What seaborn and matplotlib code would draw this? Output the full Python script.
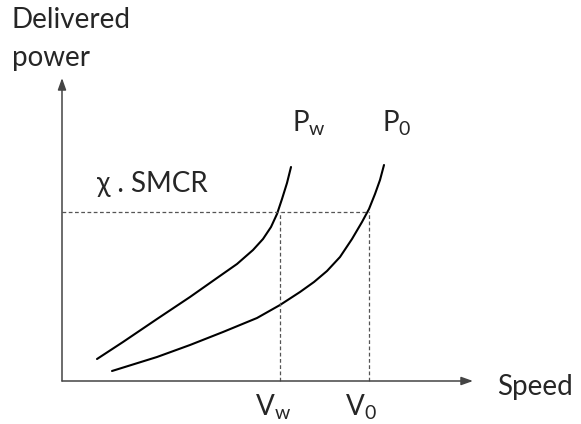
import matplotlib
matplotlib.use("Agg")
import matplotlib.pyplot as plt
import seaborn as sns
import pandas as pd

sns.set_style("white")
plt.rcParams['font.family'] = ['Lato', 'DejaVu Sans']

# Curve data (schematic units: speed, delivered power)
pw_speed = [35, 61, 95, 128, 155, 175, 191, 201, 209, 215, 220, 225, 229]
pw_power = [22, 39, 62, 84, 103, 117, 131, 142, 154, 167, 182, 198, 214]
p0_speed = [50, 95, 128, 161, 195, 218, 238, 252, 265, 278, 290, 300, 307, 313, 318, 322]
p0_power = [10, 24, 36, 49, 63, 76, 89, 99, 110, 124, 142, 159, 172, 187, 201, 216]

smcr_level = 169
v_w = 218
v_0 = 307
x_axis_end = 411
y_axis_end = 303

df = pd.concat([
    pd.DataFrame({"speed": pw_speed, "power": pw_power, "curve": "Pw"}),
    pd.DataFrame({"speed": p0_speed, "power": p0_power, "curve": "P0"}),
])

fig = plt.figure(figsize=(5.81, 4.24), dpi=100)
ax = fig.add_axes([0, 0, 1, 1])
ax.set_xlim(-62, 519)
ax.set_ylim(-43, 381)
ax.axis("off")

sns.lineplot(data=df, x="speed", y="power", units="curve", estimator=None,
             sort=False, color="black", lw=1.5, ax=ax, legend=False)

dash = dict(color="#555555", lw=0.9, ls=(0, (3, 2)))
ax.plot([0, v_0], [smcr_level, smcr_level], **dash)
ax.plot([v_w, v_w], [0, smcr_level], **dash)
ax.plot([v_0, v_0], [0, smcr_level], **dash)

arrow = dict(arrowstyle="-|>,head_length=0.7,head_width=0.25", color="#444444",
             lw=1.1, shrinkA=0, shrinkB=0)
ax.annotate("", xy=(x_axis_end, 0), xytext=(0, 0), arrowprops=arrow)
ax.annotate("", xy=(0, y_axis_end), xytext=(0, 0), arrowprops=arrow)

fs = 20
ax.text(-50, 374, "Delivered\npower", fontsize=fs, va="top", ha="left", linespacing=1.55)
ax.text(435, -14, "Speed", fontsize=fs, va="baseline", ha="left")
ax.text(230, 249, r"$\mathregular{P_w}$", fontsize=fs, va="baseline", ha="left")
ax.text(320, 249, r"$\mathregular{P_0}$", fontsize=fs, va="baseline", ha="left")
ax.text(35, 189, "χ . SMCR", fontsize=fs, va="baseline", ha="left")
ax.text(193, -34, r"$\mathregular{V_w}$", fontsize=fs, va="baseline", ha="left")
ax.text(283, -34, r"$\mathregular{V_0}$", fontsize=fs, va="baseline", ha="left")

fig.savefig("out.png", dpi=100)
